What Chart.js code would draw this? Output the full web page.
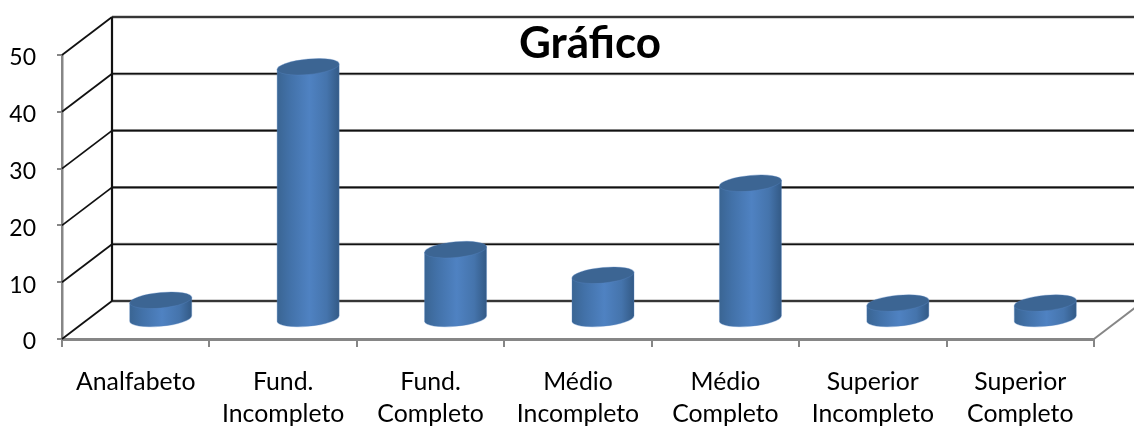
<!DOCTYPE html>
<html><head><meta charset="utf-8">
<style>html,body{margin:0;padding:0;background:#fff}canvas{display:block}</style>
<script src="https://cdn.jsdelivr.net/npm/chart.js@4/dist/chart.umd.min.js"></script>
</head><body>
<div style="width:1134px;height:427px"><canvas id="c" width="1134" height="427"></canvas></div>
<script>
const categories = [
  "Analfabeto",
  ["Fund.", "Incompleto"],
  ["Fund.", "Completo"],
  ["Médio", "Incompleto"],
  ["Médio", "Completo"],
  ["Superior", "Incompleto"],
  ["Superior", "Completo"]
];
const values = [3.4, 44.5, 12.3, 7.8, 24, 2.9, 2.9];
const chartTitle = "Gráfico";

const DEPTH_X = 50, DEPTH_Y = 38;
const RIGHT_EDGE = 1134;

const scene3d = {
  id: 'scene3d',
  afterLayout(chart) {
    const t = chart.titleBlock;
    t.left += 43; t.right += 43; t.top += 16; t.bottom += 16;
  },
  beforeDatasetsDraw(chart) {
    const { ctx, scales: { x, y } } = chart;
    const L = x.left, R = x.right, B = y.bottom;
    const seg = (a, b, c, d, w, col) => {
      ctx.strokeStyle = col; ctx.lineWidth = w;
      ctx.beginPath(); ctx.moveTo(a, b); ctx.lineTo(c, d); ctx.stroke();
    };
    ctx.save();
    y.ticks.forEach(t => {
      const py = y.getPixelForValue(t.value);
      seg(L + DEPTH_X, py - DEPTH_Y, RIGHT_EDGE, py - DEPTH_Y, 3, '#a8a8a8');
      seg(L + DEPTH_X, py - DEPTH_Y, RIGHT_EDGE, py - DEPTH_Y, 1.6, '#111');
      seg(L, py, L + DEPTH_X, py - DEPTH_Y, 1.8, '#111');
    });
    seg(L + DEPTH_X, y.top - DEPTH_Y, L + DEPTH_X, B - DEPTH_Y, 2.2, '#111');
    seg(R, B, R + DEPTH_X, B - DEPTH_Y, 2, '#868686');
    ctx.restore();
  },
  beforeDatasetDraw(chart, args) {
    const { ctx } = chart;
    const meta = chart.getDatasetMeta(args.index);
    const ox = DEPTH_X / 2, oy = DEPTH_Y / 2 + 0.5;
    const k = 0.09, ry = 7.8;
    meta.data.forEach(el => {
      const cx = el.x + ox, r = el.width / 2;
      const top = el.y - oy, base = el.base - oy;
      const g = ctx.createLinearGradient(cx - r, 0, cx + r, 0);
      g.addColorStop(0, '#3a6593');
      g.addColorStop(0.2, '#4271a8');
      g.addColorStop(0.52, '#4f82c2');
      g.addColorStop(0.8, '#4574ac');
      g.addColorStop(1, '#335a86');
      ctx.save();
      ctx.transform(1, -k, 0, 1, 0, k * cx);
      ctx.beginPath();
      ctx.moveTo(cx - r, top);
      ctx.lineTo(cx - r, base);
      ctx.ellipse(cx, base, r, ry, 0, Math.PI, 0, true);
      ctx.lineTo(cx + r, top);
      ctx.closePath();
      ctx.fillStyle = g;
      ctx.fill();
      ctx.strokeStyle = 'rgba(90,135,195,0.35)';
      ctx.lineWidth = 1;
      ctx.stroke();
      ctx.beginPath();
      ctx.ellipse(cx, top, r, ry, 0, 0, Math.PI * 2);
      ctx.fillStyle = '#3c6593';
      ctx.fill();
      ctx.stroke();
      ctx.restore();
    });
    return false;
  }
};

new Chart(document.getElementById('c'), {
  type: 'bar',
  data: {
    labels: categories,
    datasets: [{ label: 'Gráfico', data: values, backgroundColor: '#4f81bd', barThickness: 62, clip: false }]
  },
  plugins: [scene3d],
  options: {
    responsive: false,
    animation: false,
    layout: { padding: { top: 0, right: 40, left: 0, bottom: 0 } },
    plugins: {
      legend: { display: false },
      tooltip: { enabled: false },
      title: {
        display: true,
        text: chartTitle,
        color: '#000',
        padding: 0,
        font: { family: 'Lato', size: 44, weight: 'bold', lineHeight: 55 / 44 }
      }
    },
    scales: {
      x: {
        afterFit(s) { s.height = 427 - 339; },
        grid: { drawOnChartArea: false, drawTicks: true, tickLength: 8, color: '#868686', lineWidth: 2 },
        border: { display: true, color: '#868686', width: 3 },
        ticks: {
          color: '#000', maxRotation: 0, autoSkip: false, padding: 19,
          font: { family: 'Lato', size: 24.8, lineHeight: 32 / 24.8 }
        }
      },
      y: {
        min: 0, max: 50,
        afterFit(s) { s.width = 62; },
        grid: { drawOnChartArea: false, drawTicks: true, tickLength: 5, color: '#868686', lineWidth: 2 },
        border: { display: true, color: '#868686', width: 2.5 },
        ticks: {
          stepSize: 10, color: '#000', padding: 21, labelOffset: 3,
          font: { family: 'Lato', size: 23 }
        }
      }
    }
  }
});
</script>
</body></html>
